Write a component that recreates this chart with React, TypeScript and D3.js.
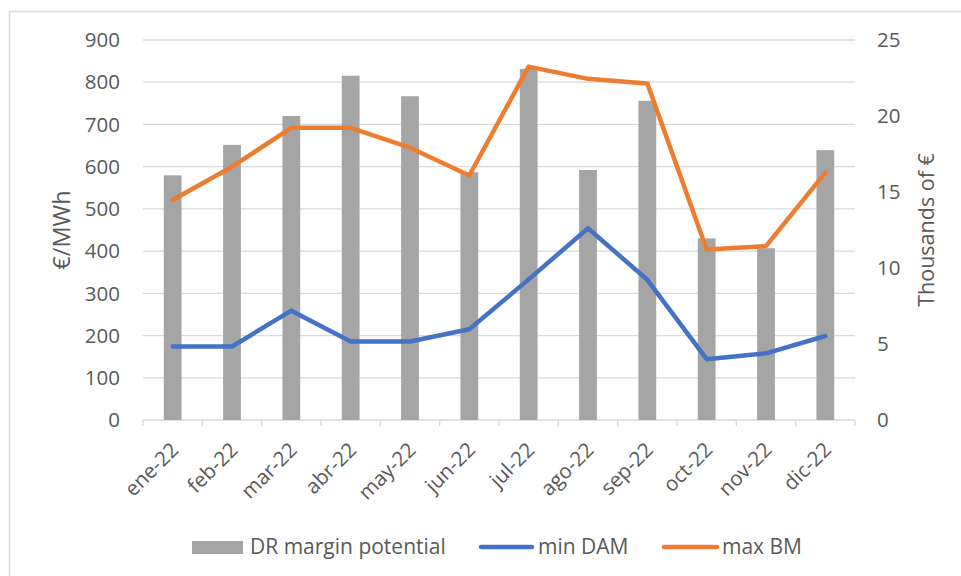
import React from "react";
import * as d3 from "d3";

const categories = ["ene-22", "feb-22", "mar-22", "abr-22", "may-22", "jun-22", "jul-22", "ago-22", "sep-22", "oct-22", "nov-22", "dic-22"];
const drMargin = [16.1, 18.1, 20.0, 22.65, 21.3, 16.3, 23.1, 16.45, 21.0, 11.95, 11.3, 17.75];
const minDAM = [174, 174, 259, 186, 186, 215, 333, 454, 332, 144, 158, 199];
const maxBM = [521, 600, 692, 692, 645, 579, 837, 808, 797, 404, 412, 586];
const leftTicks = [0, 100, 200, 300, 400, 500, 600, 700, 800, 900];
const rightTicks = [0, 5, 10, 15, 20, 25];

const W = 961, H = 576;
const plot = { left: 143, right: 855, top: 40, bottom: 420 };
const FONT = "'Open Sans', sans-serif";
const TXT = "#595959";

export default function App() {
  const x = d3.scaleBand<string>().domain(categories).range([plot.left, plot.right]);
  const yL = d3.scaleLinear().domain([0, 900]).range([plot.bottom, plot.top]);
  const yR = d3.scaleLinear().domain([0, 25]).range([plot.bottom, plot.top]);
  const cx = (c: string) => (x(c) as number) + x.bandwidth() / 2;
  const barW = x.bandwidth() * 0.3;
  const line = d3.line<number>().x((_, i) => cx(categories[i])).y((d) => yL(d));

  return (
    <svg width={W} height={H} style={{ position: "absolute", left: 0, top: 0, background: "#fff" }} fontFamily={FONT}>
      <rect x={9.5} y={11.5} width={W + 20} height={H + 20} fill="#fff" stroke="#d9d9d9" strokeWidth={1.5} />
      {leftTicks.map((t) => (
        <line key={"g" + t} x1={plot.left} x2={plot.right} y1={yL(t)} y2={yL(t)} stroke="#d9d9d9" strokeWidth={1.3} />
      ))}
      {d3.range(categories.length + 1).map((i) => {
        const xx = plot.left + i * x.bandwidth();
        return <line key={"tk" + i} x1={xx} x2={xx} y1={plot.bottom} y2={plot.bottom + 6} stroke="#d9d9d9" strokeWidth={1.3} />;
      })}
      {leftTicks.map((t) => (
        <text key={"l" + t} x={120} y={yL(t)} dy="0.35em" textAnchor="end" fontSize={20.5} fill={TXT}>{t}</text>
      ))}
      {rightTicks.map((t) => (
        <text key={"r" + t} x={877} y={yR(t)} dy="0.35em" textAnchor="start" fontSize={20.5} fill={TXT}>{t}</text>
      ))}
      {categories.map((c, i) => (
        <rect key={"b" + c} x={cx(c) - barW / 2} y={yR(drMargin[i])} width={barW} height={plot.bottom - yR(drMargin[i])} fill="#a5a5a5" />
      ))}
      <path d={line(minDAM) || ""} fill="none" stroke="#4472c4" strokeWidth={4.5} strokeLinejoin="round" strokeLinecap="round" />
      <path d={line(maxBM) || ""} fill="none" stroke="#ed7d31" strokeWidth={4.5} strokeLinejoin="round" strokeLinecap="round" />
      {categories.map((c) => (
        <text key={"x" + c} transform={`translate(${cx(c) + 2},${plot.bottom + 26}) rotate(-45)`} textAnchor="end" dy="0.35em" fontSize={20.5} fill={TXT}>{c}</text>
      ))}
      <text transform={`translate(62,${(plot.top + plot.bottom) / 2}) rotate(-90)`} textAnchor="middle" dy="0.35em" fontSize={23.5} fill={TXT}>€/MWh</text>
      <text transform={`translate(926,${(plot.top + plot.bottom) / 2}) rotate(-90)`} textAnchor="middle" dy="0.35em" fontSize={21.5} fill={TXT}>Thousands of €</text>
      <g fontSize={21} fill={TXT}>
        <rect x={192} y={541} width={51} height={13} fill="#a5a5a5" />
        <text x={250} y={547} dy="0.35em">DR margin potential</text>
        <line x1={481} x2={532} y1={547} y2={547} stroke="#4472c4" strokeWidth={4.5} strokeLinecap="round" />
        <text x={538} y={547} dy="0.35em">min DAM</text>
        <line x1={664} x2={717} y1={547} y2={547} stroke="#ed7d31" strokeWidth={4.5} strokeLinecap="round" />
        <text x={722} y={547} dy="0.35em">max BM</text>
      </g>
    </svg>
  );
}
